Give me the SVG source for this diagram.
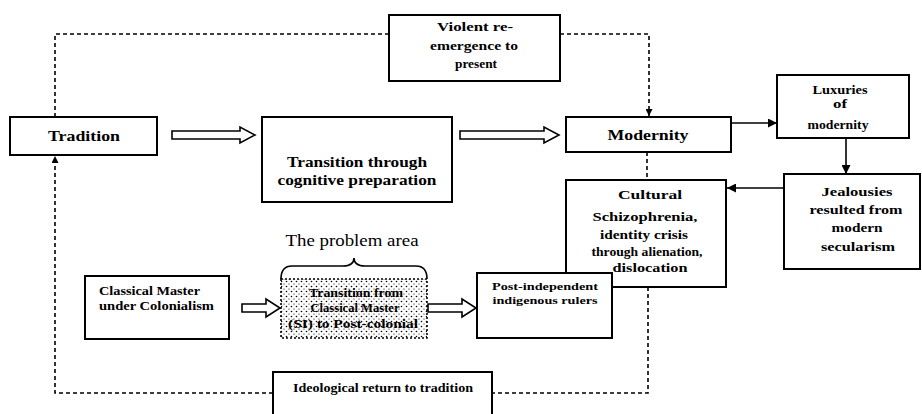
<svg xmlns="http://www.w3.org/2000/svg" width="922" height="414" viewBox="0 0 922 414">
<style>
.box{fill:#fff;stroke:#000;stroke-width:2}
.t{font-family:"Liberation Serif",serif;font-weight:bold;fill:#000;text-anchor:middle}
.l{text-anchor:start}
.s14{font-size:14px}
.s13{font-size:13px}
.s12{font-size:12px}
.s11{font-size:11px}
.dash{fill:none;stroke:#000;stroke-width:1.6;stroke-dasharray:4,3}
.solid{fill:none;stroke:#000;stroke-width:1.6}
.hollow{fill:#fff;stroke:#000;stroke-width:1.6}
</style>
<defs>
<marker id="ah" viewBox="0 0 10 10" refX="10" refY="5" markerWidth="7" markerHeight="7" orient="auto" markerUnits="userSpaceOnUse">
<path d="M0,0 L10,5 L0,10 z" fill="#000"/>
</marker>
<marker id="ah2" viewBox="0 0 10 10" refX="10" refY="5" markerWidth="9" markerHeight="9" orient="auto" markerUnits="userSpaceOnUse">
<path d="M0,0 L10,5 L0,10 z" fill="#000"/>
</marker>
<pattern id="dots" width="5" height="5" patternUnits="userSpaceOnUse">
<rect width="5" height="5" fill="#fff"/>
<circle cx="1.5" cy="1.5" r="0.8" fill="#000"/>
<circle cx="4" cy="4" r="0.6" fill="#000"/>
</pattern>
</defs>
<g id="connectors">
<path class="dash" d="M55,117 V34 H389"/>
<path class="dash" d="M560,34 H649 V116" marker-end="url(#ah)"/>
<path class="dash" d="M647,152 V180"/>
<path class="dash" d="M648,287 V393 H492"/>
<path class="dash" d="M273,393 H55 V156" marker-end="url(#ah)"/>
<path class="solid" d="M731,123 H777" marker-end="url(#ah2)"/>
<path class="solid" d="M846,138 V174" marker-end="url(#ah2)"/>
<path class="solid" d="M784,188 H727" marker-end="url(#ah2)"/>
<path class="hollow" d="M172,131 H240 V127 L255,135 L240,143 V139 H172 Z"/>
<path class="hollow" d="M460,131 H544 V127 L559,135 L544,143 V139 H460 Z"/>
<path class="hollow" d="M242,304 H266 V299 L280,308 L266,317 V312 H242 Z"/>
<path class="hollow" d="M428,304 H462 V299 L476,308 L462,317 V312 H428 Z"/>
<path class="solid" d="M281,279 Q281,266 292,266 H343 Q354,266 354,258 Q354,266 365,266 H416 Q427,266 427,279"/>
</g>
<g id="tradition"><rect class="box" x="10" y="117" width="147" height="38"/><text class="t s14" x="84" y="141" textLength="72" lengthAdjust="spacingAndGlyphs">Tradition</text></g>
<g id="violent"><rect class="box" x="389" y="15" width="171" height="66"/>
<text class="t s13" x="475" y="31" textLength="76" lengthAdjust="spacingAndGlyphs">Violent re-</text>
<text class="t s13" x="474" y="50" textLength="88" lengthAdjust="spacingAndGlyphs">emergence to</text>
<text class="t s13" x="476" y="68" textLength="42" lengthAdjust="spacingAndGlyphs">present</text></g>
<g id="transition"><rect class="box" x="262" y="117" width="190" height="85"/>
<text class="t s14" x="357" y="167" textLength="140" lengthAdjust="spacingAndGlyphs">Transition through</text>
<text class="t s14" x="357" y="185" textLength="159" lengthAdjust="spacingAndGlyphs">cognitive preparation</text></g>
<g id="modernity"><rect class="box" x="566" y="117" width="165" height="35"/><text class="t s14" x="648" y="140" textLength="81" lengthAdjust="spacingAndGlyphs">Modernity</text></g>
<g id="luxuries"><rect class="box" x="777" y="75" width="132" height="63"/>
<text class="t s12" x="840" y="94" textLength="55" lengthAdjust="spacingAndGlyphs">Luxuries</text>
<text class="t s12" x="840" y="108" textLength="14" lengthAdjust="spacingAndGlyphs">of</text>
<text class="t s12" x="838" y="129" textLength="61" lengthAdjust="spacingAndGlyphs">modernity</text></g>
<g id="jealousies"><rect class="box" x="784" y="174" width="136" height="95"/>
<text class="t s13" x="857" y="196" textLength="71" lengthAdjust="spacingAndGlyphs">Jealousies</text>
<text class="t s13" x="856" y="214" textLength="93" lengthAdjust="spacingAndGlyphs">resulted from</text>
<text class="t s13" x="857" y="232" textLength="51" lengthAdjust="spacingAndGlyphs">modern</text>
<text class="t s13" x="858" y="251" textLength="74" lengthAdjust="spacingAndGlyphs">secularism</text></g>
<g id="cultural"><rect class="box" x="566" y="180" width="160" height="107"/>
<text class="t s13" x="650" y="199" textLength="64" lengthAdjust="spacingAndGlyphs">Cultural</text>
<text class="t s13" x="645" y="221" textLength="105" lengthAdjust="spacingAndGlyphs">Schizophrenia,</text>
<text class="t s13" x="644" y="239" textLength="88" lengthAdjust="spacingAndGlyphs">identity crisis</text>
<text class="t s13" x="647" y="256" textLength="111" lengthAdjust="spacingAndGlyphs">through alienation,</text>
<text class="t s13" x="650" y="272" textLength="75" lengthAdjust="spacingAndGlyphs">dislocation</text></g>
<g id="classical"><rect class="box" x="85" y="276" width="144" height="63"/>
<text class="t s12 l" x="99" y="295" textLength="101" lengthAdjust="spacingAndGlyphs">Classical Master</text>
<text class="t s12 l" x="99" y="310" textLength="115" lengthAdjust="spacingAndGlyphs">under Colonialism</text></g>
<g id="problem"><text class="t" font-size="16" x="352" y="246" style="font-weight:normal" textLength="133" lengthAdjust="spacingAndGlyphs">The problem area</text>
<rect x="281" y="279" width="146" height="59" fill="url(#dots)" stroke="#000" stroke-width="1.6" stroke-dasharray="2,2"/>
<text class="t s12" x="356" y="297" textLength="94" lengthAdjust="spacingAndGlyphs">Transition from</text>
<text class="t s12" x="355" y="312" textLength="89" lengthAdjust="spacingAndGlyphs">Classical Master</text>
<text class="t s12" x="353" y="328" textLength="130" lengthAdjust="spacingAndGlyphs">(SI) to Post-colonial</text></g>
<g id="postindependent"><rect class="box" x="477" y="273" width="135" height="65"/>
<text class="t s11" x="545" y="290" textLength="106" lengthAdjust="spacingAndGlyphs">Post-independent</text>
<text class="t s11" x="545" y="304" textLength="105" lengthAdjust="spacingAndGlyphs">indigenous rulers</text></g>
<g id="ideological"><rect class="box" x="273" y="372" width="219" height="50"/>
<text class="t s12" x="383" y="392" textLength="180" lengthAdjust="spacingAndGlyphs">Ideological return to tradition</text></g>
</svg>
